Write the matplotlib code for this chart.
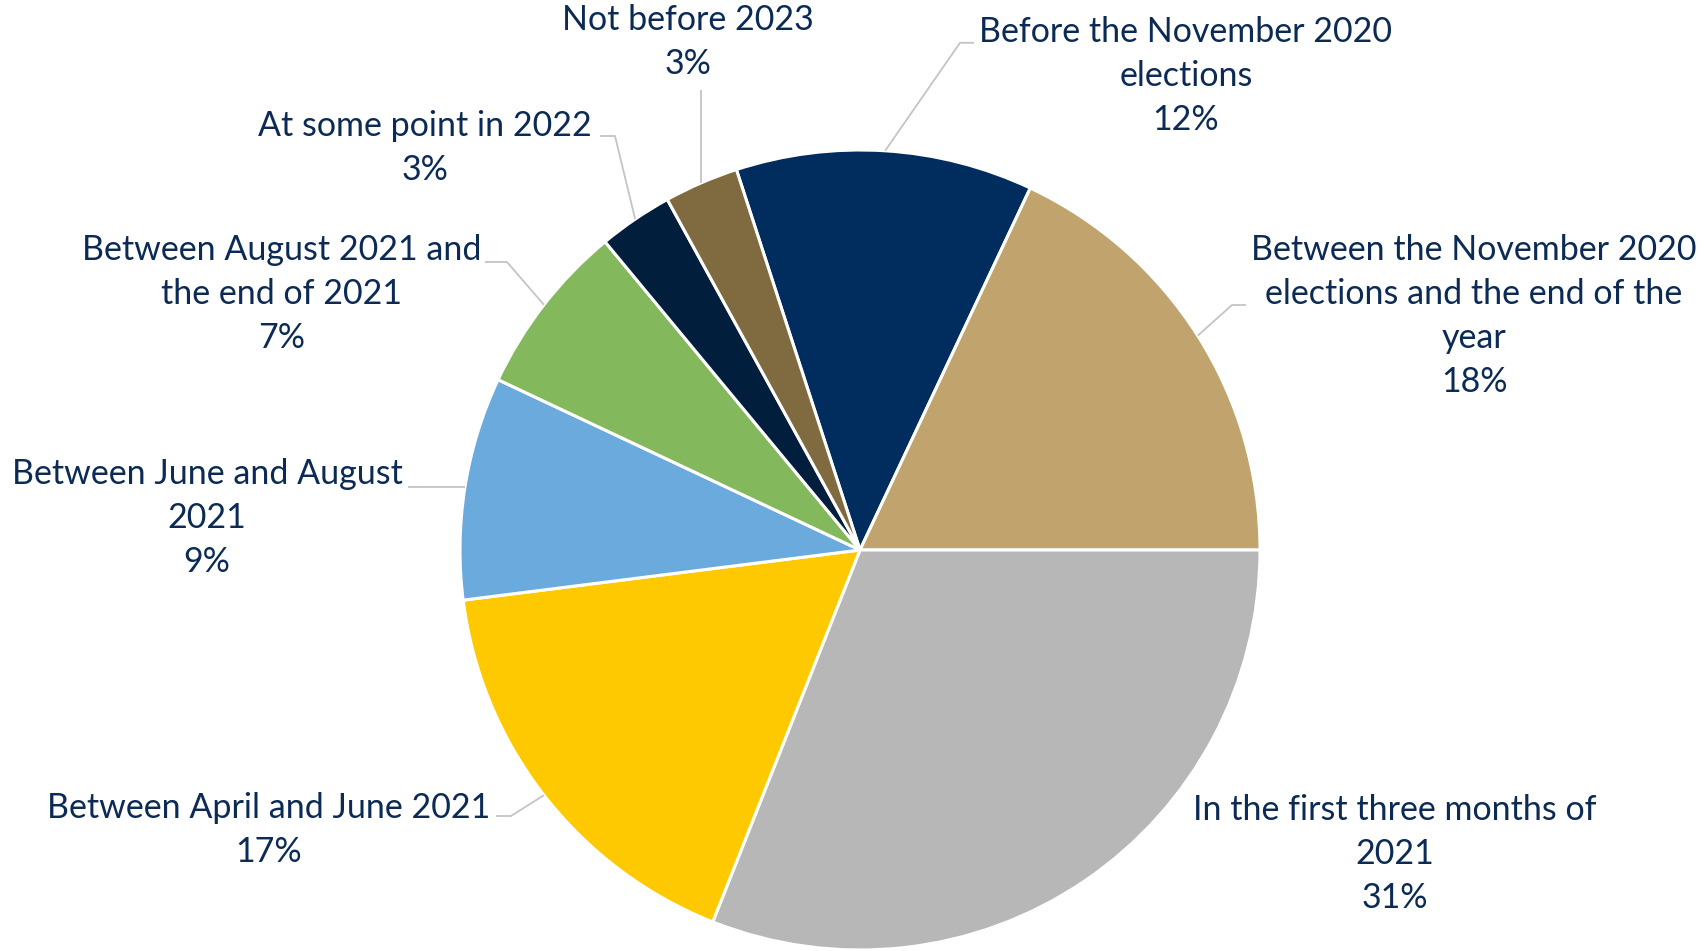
import numpy as np
import matplotlib.pyplot as plt

labels = [
    'Before the November 2020\nelections',
    'Between the November 2020\nelections and the end of the\nyear',
    'In the first three months of\n2021',
    'Between April and June 2021',
    'Between June and August\n2021',
    'Between August 2021 and\nthe end of 2021',
    'At some point in 2022',
    'Not before 2023',
]
shares = [12, 18, 31, 17, 9, 7, 3, 3]
colors = ['#002D5E', '#C1A46D', '#B7B7B7', '#FFC900',
          '#6BAADC', '#83B95C', '#011F3D', '#806A40']

# label placement in pie-radius units: text centre, elbow of the leader, end of the leader
text_pos = [(0.815, 1.185), (1.535, 0.585), (1.3375, -0.76), (-1.4775, -0.70),
            (-1.6325, 0.08), (-1.445, 0.64), (-1.0875, 1.005), (-0.43, 1.27)]
elbow_pos = [(0.25, 1.268), (0.93, 0.6125), None, (-0.8725, -0.665),
             None, (-0.8825, 0.72), (-0.6125, 1.035), None]
end_pos = [(0.285, 1.268), (0.965, 0.6125), None, (-0.91, -0.665),
           (-1.13, None), (-0.9375, 0.72), (-0.65, 1.035), (None, 1.15)]

text_color = '#0B2A55'
line_color = '#C4C4C4'

W, H = 1706, 951
fig = plt.figure(figsize=(W / 100, H / 100), dpi=100)
ax = fig.add_axes([0, 0, 1, 1])

cx, cy, r = 860, 550, 400

wedges, _ = ax.pie(shares, colors=colors, startangle=108, counterclock=False,
                   radius=1.0, center=(0, 0), frame=True,
                   wedgeprops=dict(edgecolor='white', linewidth=2.2))
ax.set_xlim(-cx / r, (W - cx) / r)
ax.set_ylim((cy - H) / r, cy / r)
ax.set_aspect('equal')
ax.axis('off')

for i, w in enumerate(wedges):
    mid = np.deg2rad((w.theta1 + w.theta2) / 2)
    px, py = np.cos(mid), np.sin(mid)
    end = end_pos[i]
    if end is not None:
        ex = px if end[0] is None else end[0]
        ey = py if end[1] is None else end[1]
        pts = [(px, py)]
        if elbow_pos[i] is not None:
            pts.append(elbow_pos[i])
        pts.append((ex, ey))
        xs, ys = zip(*pts)
        ax.plot(xs, ys, color=line_color, lw=1.3, solid_capstyle='butt', zorder=1)
    tx, ty = text_pos[i]
    ax.text(tx, ty, f'{labels[i]}\n{shares[i]}%', ha='center', va='center',
            multialignment='center', fontsize=24.5, family='Lato',
            color=text_color, linespacing=1.45)

fig.savefig('out.png', dpi=100, facecolor='white')
